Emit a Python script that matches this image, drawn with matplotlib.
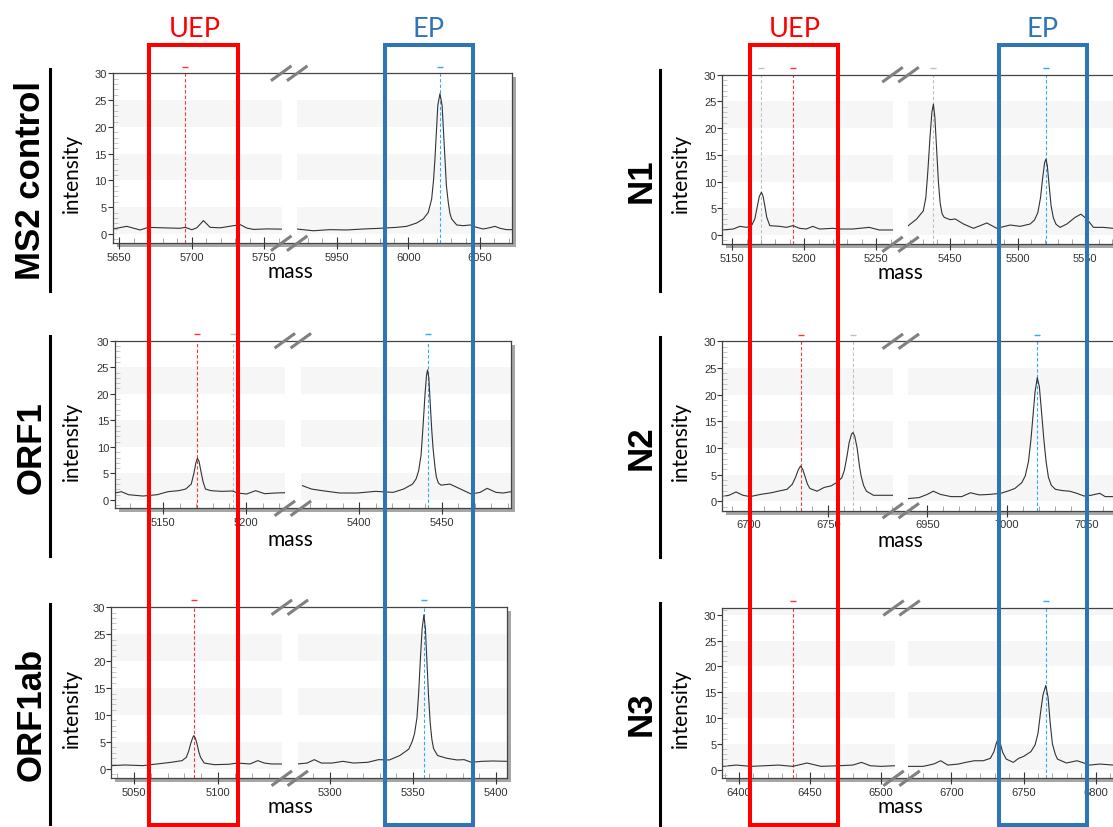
import matplotlib
matplotlib.use('Agg')
import matplotlib.pyplot as plt
from matplotlib.ticker import MultipleLocator
from matplotlib.patches import Rectangle
from matplotlib.lines import Line2D

plt.rcParams['font.family'] = ['Liberation Sans', 'DejaVu Sans']

W, H = 1113, 828

# ---- spectra: (mass, intensity) for low / high mass window ----
ms2_lo_mass = [5645.4, 5655.1, 5664.3, 5670.0, 5680.0, 5691.9, 5695.4, 5700.0, 5703.4, 5706.0, 5708.0,
               5710.2, 5712.6, 5719.6, 5728.8, 5733.4, 5738.0, 5742.6, 5751.8, 5762.0]
ms2_lo_int = [0.93, 1.43, 0.75, 1.24, 1.15, 1.06, 1.24, 0.8, 1.15, 1.9, 2.5,
              1.9, 1.24, 1.15, 1.55, 1.74, 1.1, 0.85, 0.95, 0.9]
ms2_hi_mass = [5922.0, 5933.6, 5945.2, 5956.9, 5968.5, 5980.1, 5991.8, 5998.8, 6005.7, 6010.3, 6013.8,
               6016.2, 6017.5, 6018.5, 6019.5, 6020.5, 6022.0, 6023.5, 6024.5, 6025.5, 6026.5, 6027.8,
               6029.0, 6030.2, 6033.7, 6038.3, 6043.0, 6047.6, 6052.2, 6056.9, 6060.4, 6063.9, 6068.5, 6072.5]
ms2_hi_int = [0.93, 0.6, 0.81, 0.75, 0.93, 1.06, 1.24, 1.43, 2.05, 2.8, 4.0,
              6.5, 10.0, 14.0, 19.0, 24.0, 26.2, 24.0, 19.0, 14.0, 9.0, 5.9,
              3.8, 2.8, 1.68, 1.55, 1.68, 1.24, 0.93, 1.18, 1.43, 1.06, 0.81, 0.81]

orf1_lo_mass = [5120.8, 5124.7, 5129.0, 5137.7, 5146.3, 5152.8, 5159.3, 5163.6, 5166.9, 5168.5, 5169.7,
                5170.6, 5171.6, 5172.7, 5174.0, 5175.5, 5178.8, 5185.3, 5191.8, 5195.0, 5200.4, 5205.8,
                5211.3, 5217.7, 5223.6]
orf1_lo_int = [1.32, 1.57, 1.0, 0.75, 1.0, 1.57, 1.76, 2.07, 3.0, 5.0, 7.0,
               7.85, 7.3, 5.5, 3.5, 2.07, 1.76, 1.63, 1.7, 1.32, 1.13, 1.76,
               1.19, 1.32, 1.38]
orf1_hi_mass = [5365.5, 5370.9, 5377.4, 5388.1, 5398.9, 5409.7, 5420.5, 5426.9, 5432.3, 5434.5, 5436.0,
                5437.5, 5438.7, 5439.9, 5440.8, 5441.4, 5442.2, 5442.9, 5444.0, 5444.8, 5446.0, 5446.8,
                5448.0, 5449.6, 5455.0, 5461.4, 5467.9, 5473.3, 5477.6, 5483.0, 5487.3, 5492.0]
orf1_hi_int = [2.7, 2.07, 1.76, 1.32, 1.32, 1.63, 1.44, 2.07, 3.0, 4.0, 5.5,
               8.5, 14.0, 20.0, 23.5, 24.5, 23.0, 19.0, 13.0, 9.6, 6.0, 4.3,
               3.2, 2.8, 3.0, 2.07, 1.13, 1.44, 2.2, 1.44, 1.32, 1.57]

orf1ab_lo_mass = [5036.7, 5044.7, 5055.3, 5063.8, 5072.2, 5078.6, 5081.1, 5082.5, 5083.8, 5085.0, 5085.6,
                  5086.5, 5087.5, 5088.5, 5089.5, 5091.7, 5097.7, 5106.1, 5111.4, 5118.9, 5123.5, 5127.3,
                  5131.6, 5137.9]
orf1ab_lo_int = [0.62, 0.74, 0.62, 0.93, 1.24, 1.55, 2.16, 3.3, 4.8, 5.9, 6.2,
                 5.7, 4.6, 3.2, 2.2, 1.1, 0.8, 0.87, 1.1, 0.93, 1.55, 1.1,
                 0.93, 0.93]
orf1ab_hi_mass = [5280.4, 5286.2, 5290.5, 5294.8, 5301.3, 5307.8, 5314.2, 5322.8, 5329.3, 5335.8, 5342.2,
                  5347.6, 5349.5, 5351.0, 5352.5, 5353.5, 5354.5, 5355.6, 5356.7, 5357.6, 5358.5, 5359.5,
                  5360.5, 5361.5, 5362.5, 5364.9, 5370.3, 5376.7, 5381.0, 5385.3, 5391.8, 5398.3, 5406.9]
orf1ab_hi_int = [0.93, 1.1, 1.73, 1.1, 1.1, 1.42, 1.1, 1.24, 1.73, 1.67, 2.5,
                 3.7, 5.0, 6.5, 9.5, 14.0, 20.0, 26.0, 28.6, 26.0, 20.0, 13.5,
                 8.5, 5.5, 3.8, 2.5, 2.0, 1.67, 1.73, 1.24, 1.42, 1.48, 1.42]

n1_lo_mass = [5143.1, 5150.7, 5155.3, 5160.0, 5163.4, 5165.7, 5167.3, 5168.8, 5170.3, 5171.5, 5172.8,
              5174.0, 5176.1, 5183.0, 5187.6, 5192.2, 5196.8, 5201.4, 5206.0, 5210.6, 5219.8, 5224.4,
              5233.6, 5245.2, 5252.1, 5261.5]
n1_lo_int = [0.94, 1.12, 1.62, 1.43, 1.75, 3.0, 5.2, 7.2, 8.0, 7.2, 5.2,
             3.3, 1.75, 1.62, 1.43, 1.75, 1.25, 1.12, 1.62, 1.12, 1.25, 1.12,
             1.12, 1.43, 0.94, 0.94]
n1_hi_mass = [5419.0, 5425.2, 5430.1, 5432.0, 5433.5, 5435.0, 5436.5, 5437.6, 5438.7, 5440.0, 5441.3,
              5442.6, 5444.0, 5445.6, 5450.0, 5453.7, 5459.9, 5467.3, 5477.2, 5484.6, 5494.5, 5501.9,
              5509.3, 5512.5, 5515.0, 5517.0, 5518.5, 5520.0, 5521.0, 5522.0, 5523.3, 5524.8, 5526.5,
              5528.5, 5531.5, 5536.5, 5542.6, 5546.9, 5551.3, 5556.2, 5563.6, 5570.7]
n1_hi_int = [1.75, 3.0, 4.5, 7.0, 12.0, 18.0, 23.0, 24.5, 22.0, 16.0, 10.0,
             6.0, 4.0, 3.3, 2.87, 3.0, 2.06, 1.25, 2.25, 1.25, 1.87, 1.62,
             2.06, 2.8, 4.2, 7.0, 10.5, 13.5, 14.2, 13.0, 9.5, 5.5, 3.2,
             2.0, 1.43, 2.06, 3.3, 3.9, 3.0, 1.43, 1.43, 1.25]

n2_lo_mass = [6683.5, 6687.9, 6692.3, 6696.7, 6701.1, 6707.7, 6714.3, 6718.7, 6724.2, 6727.5, 6729.5,
              6731.2, 6732.6, 6734.0, 6735.5, 6737.0, 6738.5, 6743.0, 6747.4, 6751.8, 6755.1, 6758.4,
              6760.0, 6761.7, 6763.0, 6764.5, 6765.4, 6766.5, 6768.0, 6769.5, 6770.5, 6772.0, 6773.8,
              6778.2, 6790.1]
n2_lo_int = [0.88, 1.13, 1.75, 1.13, 0.88, 1.3, 1.6, 1.9, 2.25, 3.2, 4.5,
             5.9, 6.6, 6.0, 4.6, 3.2, 2.4, 1.9, 2.6, 2.9, 3.5, 4.4,
             5.8, 8.5, 11.0, 12.6, 12.9, 12.2, 10.0, 6.5, 4.75, 3.0, 1.9,
             1.13, 1.13]
n2_hi_mass = [6937.6, 6944.9, 6950.0, 6953.8, 6958.2, 6964.9, 6971.6, 6977.1, 6982.7, 6989.3, 6996.0,
              7000.4, 7004.9, 7009.3, 7011.5, 7013.5, 7015.0, 7016.3, 7017.6, 7019.0, 7020.3, 7021.6,
              7023.0, 7024.5, 7026.0, 7027.8, 7030.4, 7034.9, 7039.3, 7043.8, 7048.2, 7052.7, 7058.2,
              7061.6, 7066.7]
n2_hi_int = [0.5, 0.7, 1.3, 1.9, 1.3, 0.88, 0.88, 1.6, 1.2, 1.3, 1.5,
             1.9, 2.4, 3.5, 4.8, 7.5, 11.5, 16.0, 20.5, 23.2, 21.5, 17.0,
             12.0, 7.5, 4.5, 3.0, 2.25, 2.0, 1.9, 1.5, 1.0, 1.13, 1.5,
             0.88, 0.88]

n3_lo_mass = [6388.1, 6398.0, 6408.0, 6417.9, 6427.9, 6437.8, 6447.8, 6457.7, 6470.1, 6480.1, 6486.3,
              6492.5, 6500.0, 6509.9]
n3_lo_int = [0.65, 0.9, 0.65, 0.77, 0.9, 0.65, 1.3, 0.65, 0.77, 0.9, 1.42,
             0.77, 0.65, 0.77]
n3_hi_mass = [6669.9, 6680.4, 6687.7, 6692.6, 6697.5, 6704.9, 6709.8, 6715.9, 6722.1, 6727.0, 6729.5,
              6731.0, 6732.6, 6734.0, 6735.5, 6738.0, 6742.9, 6746.6, 6750.2, 6755.1, 6758.0, 6760.0,
              6761.8, 6763.5, 6765.4, 6767.0, 6768.5, 6770.0, 6772.0, 6773.5, 6779.7, 6787.0, 6790.7,
              6795.6, 6802.9, 6812.3]
n3_hi_int = [0.65, 0.65, 1.1, 1.74, 0.9, 1.1, 1.42, 1.74, 1.74, 2.2, 3.5,
             5.0, 6.2, 5.0, 3.4, 2.06, 1.42, 2.2, 2.6, 3.5, 4.8, 7.0,
             11.1, 14.5, 16.3, 14.0, 9.0, 5.0, 3.0, 2.06, 1.3, 1.74, 1.42,
             0.9, 1.1, 0.9]

# expected peak masses (dashed lines): UEP red, EP blue, other grey
uep_mass = {'MS2 control': 5695.0, 'ORF1': 5170.6, 'ORF1ab': 5085.6, 'N1': 5192.2, 'N2': 6733.0, 'N3': 6437.8}
ep_mass = {'MS2 control': 6022.0, 'ORF1': 5441.5, 'ORF1ab': 5356.6, 'N1': 5521.0, 'N2': 7019.0, 'N3': 6765.9}
other_mass = {'MS2 control': [], 'ORF1': [5192.4], 'ORF1ab': [], 'N1': [5170.3, 5437.6], 'N2': [6765.6], 'N3': []}

RED, BLUE = '#ff0000', '#2e75b6'

# panel layout in pixels: frame left, left-window end, right-window start, frame right, top, bottom
panels = [
    dict(name='MS2 control', lo=(ms2_lo_mass, ms2_lo_int), hi=(ms2_hi_mass, ms2_hi_int),
         xlo=(5645.4, 5762.0), xhi=(5922.0, 6072.5), ylim=(-1.74, 30),
         box=(112.7, 281.7, 296.7, 512.3, 74.3, 244.3), col=0, ny=180, iy=173, my=278.5, bar=(70, 292)),
    dict(name='ORF1', lo=(orf1_lo_mass, orf1_lo_int), hi=(orf1_hi_mass, orf1_hi_int),
         xlo=(5120.8, 5223.6), xhi=(5364.4, 5491.9), ylim=(-1.56, 30),
         box=(115.0, 285.0, 300.7, 510.7, 341.7, 509.3), col=0, ny=448, iy=441, my=546.3, bar=(337, 557)),
    dict(name='ORF1ab', lo=(orf1ab_lo_mass, orf1ab_lo_int), hi=(orf1ab_hi_mass, orf1ab_hi_int),
         xlo=(5036.7, 5137.9), xhi=(5280.4, 5406.9), ylim=(-1.73, 30),
         box=(111.4, 282.1, 297.5, 507.1, 608.3, 779.3), col=0, ny=714, iy=708, my=813.3, bar=(605, 825)),
    dict(name='N1', lo=(n1_lo_mass, n1_lo_int), hi=(n1_hi_mass, n1_hi_int),
         xlo=(5143.1, 5261.5), xhi=(5419.0, 5570.7), ylim=(-1.74, 30),
         box=(722.3, 892.7, 908.3, 1113, 75.7, 245.3), col=1, ny=181, iy=173, my=279.0, bar=(71, 292)),
    dict(name='N2', lo=(n2_lo_mass, n2_lo_int), hi=(n2_hi_mass, n2_hi_int),
         xlo=(6683.75, 6790.6), xhi=(6938.1, 7066.5), ylim=(-1.76, 30),
         box=(722.3, 893.3, 908.3, 1113, 342.3, 511.7), col=1, ny=447.5, iy=441.7, my=546.7, bar=(338, 558)),
    dict(name='N3', lo=(n3_lo_mass, n3_lo_int), hi=(n3_hi_mass, n3_hi_int),
         xlo=(6388.1, 6509.9), xhi=(6670.0, 6812.0), ylim=(-1.66, 31.3),
         box=(722.3, 895.0, 908.1, 1113, 609.0, 779.3), col=1, ny=714, iy=708, my=813.3, bar=(604, 826)),
]
name_x = [31, 641]
int_x = [71.5, 681]
mass_x = [290, 900.5]
bar_x = [50, 660]
uep_box = [(149, 238.3), (750, 837.7)]
ep_box = [(384.7, 472.7), (999, 1086.7)]
uep_x = [195, 795]
ep_x = [429, 1043]


def fx(x):
    return x / W


def fy(y):
    return 1 - y / H


def frect(x0, y0, x1, y1):
    return [fx(x0), fy(y1), (x1 - x0) / W, (y1 - y0) / H]


fig = plt.figure(figsize=(W / 100, H / 100), dpi=100)

for p in panels:
    L, LE, RS, RE, top, bot = p['box']
    ybot, ytop = p['ylim']
    cut = RE >= W
    # drop shadow and white face behind the frame
    fig.add_artist(Rectangle((fx(L + 4), fy(bot + 4)), (RE - L) / W, (bot - top) / H,
                             transform=fig.transFigure, color='#a6a6a6', lw=0, zorder=-2))
    fig.add_artist(Rectangle((fx(L), fy(bot)), (RE - L) / W, (bot - top) / H,
                             transform=fig.transFigure, color='white', lw=0, zorder=-1))

    marks = [(m, '#c0c0c0') for m in other_mass[p['name']]]
    marks += [(uep_mass[p['name']], '#ff3333'), (ep_mass[p['name']], '#33a6ff')]

    for (x0, x1), (ms, it), xl in [((L, LE), p['lo'], p['xlo']), ((RS, RE), p['hi'], p['xhi'])]:
        ax = fig.add_axes(frect(x0, top, x1, bot), zorder=0)
        ax.set_facecolor('none')
        for s in ax.spines.values():
            s.set_visible(False)
        for b in (0, 10, 20, 30):
            ax.axhspan(b, b + 5, color='#f6f6f6', lw=0, zorder=0)
        for m, c in marks:
            if xl[0] < m < xl[1]:
                ax.axvline(m, color=c, lw=0.8, ls=(0, (3, 2)), zorder=1)
                ax.plot([m], [1.04], transform=ax.get_xaxis_transform(), marker='_', ms=4, mew=1,
                        color=c, clip_on=False)
        ax.plot(ms, it, color='#333333', lw=0.8, zorder=2)
        ax.set_xlim(xl)
        ax.set_ylim(ybot, ytop)
        ax.xaxis.set_major_locator(MultipleLocator(50))
        ax.xaxis.set_minor_locator(MultipleLocator(10))
        ax.tick_params(axis='x', which='major', direction='inout', length=9, width=0.8,
                       colors='#333333', labelsize=8, pad=1.5)
        ax.tick_params(axis='x', which='minor', direction='in', length=3.5, width=0.6, color='#999999')
        ax.tick_params(axis='y', which='both', left=False, labelleft=False)

    fr = fig.add_axes(frect(L, top, RE, bot), zorder=1)
    fr.set_facecolor('none')
    fr.set_ylim(ybot, ytop)
    fr.set_xticks([])
    fr.set_yticks(range(0, 31, 5))
    fr.yaxis.set_minor_locator(MultipleLocator(1))
    fr.tick_params(axis='y', which='major', direction='out', length=3.3, width=0.8,
                   colors='#333333', labelsize=8, pad=1)
    fr.tick_params(axis='y', which='minor', direction='in', length=3.8, width=0.6, color='#bdbdbd')
    for s in fr.spines.values():
        s.set_color('#444444')
        s.set_linewidth(0.9)
    if cut:
        fr.spines['right'].set_visible(False)

    # axis-break marks
    cx = (LE + RS) / 2
    for yy in (top, bot):
        for dx in (-8, 8):
            fig.add_artist(Line2D([fx(cx + dx - 9), fx(cx + dx + 9)], [fy(yy + 6.5), fy(yy - 6.5)],
                                  transform=fig.transFigure, color='#808080', lw=2.2, zorder=3))

    c = p['col']
    fig.text(fx(name_x[c]), fy(p['ny']), p['name'], rotation=90, ha='center', va='center',
             fontsize=25, fontweight='bold', family='Liberation Sans')
    fig.text(fx(int_x[c]), fy(p['iy']), 'intensity', rotation=90, ha='center', va='center',
             fontsize=15, family='Lato')
    fig.text(fx(mass_x[c]), fy(p['my']), 'mass', ha='center', va='baseline',
             fontsize=15, family='Lato')
    fig.add_artist(Line2D([fx(bar_x[c])] * 2, [fy(p['bar'][0]), fy(p['bar'][1])],
                          transform=fig.transFigure, color='black', lw=2.2, zorder=3))

# UEP / EP boxes spanning each column
for c in range(2):
    for (x0, x1), col in ((uep_box[c], RED), (ep_box[c], BLUE)):
        fig.add_artist(Rectangle((fx(x0), fy(826)), (x1 - x0) / W, (826 - 46) / H, fill=False,
                                 transform=fig.transFigure, edgecolor=col, lw=2.9, zorder=5))
    fig.text(fx(uep_x[c]), fy(37), 'UEP', color=RED, ha='center', va='baseline', fontsize=19.5, family='Lato')
    fig.text(fx(ep_x[c]), fy(37), 'EP', color=BLUE, ha='center', va='baseline', fontsize=19.5, family='Lato')

fig.savefig('out.png', dpi=100)
